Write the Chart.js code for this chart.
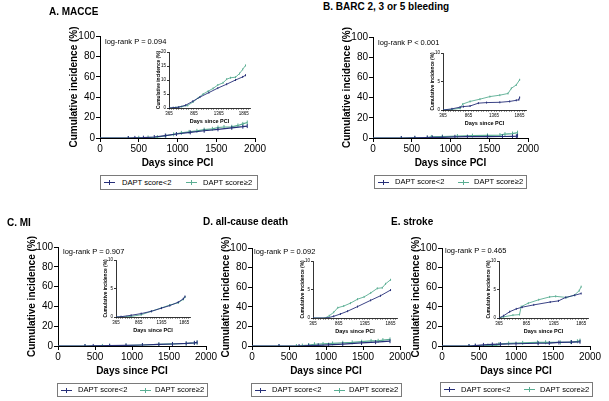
<!DOCTYPE html>
<html>
<head>
<meta charset="utf-8">
<script src="https://cdn.jsdelivr.net/npm/chart.js@4.4.1/dist/chart.umd.min.js"></script>
<style>
  body { margin: 0; width: 609px; height: 401px; background: #fff; position: relative; overflow: hidden;
         font-family: "Liberation Sans", Arial, sans-serif; color: #000; }
  .ttl { position: absolute; font-size: 10px; line-height: 12px; font-weight: bold; white-space: nowrap; }
  .lr { position: absolute; font-size: 7.5px; line-height: 9px; white-space: nowrap; }
  .leg { position: absolute; border: 1px solid #7a7a7a; box-sizing: border-box; font-size: 7.6px; }
  .leg span { position: absolute; top: 50%; transform: translateY(-50%); white-space: nowrap; line-height: 10px; }
  .leg .sym { width: 11px; height: 1px; transform: none; }
  .leg .sym::after { content: ''; position: absolute; left: 5px; top: -2px; width: 1px; height: 5px; background: inherit; }
  canvas { position: absolute; }
</style>
</head>
<body>
<script>
const FONT = '"Liberation Sans", Arial, sans-serif';
const DARK = '#262f78';
const GREEN = '#5aae93';

// tick labels
const mainXTicks = [0, 500, 1000, 1500, 2000];
const mainYTicks = [0, 20, 40, 60, 80, 100];
const insetXLabels = [365, 865, 1365, 1865];
const seriesNames = ['DAPT score<2', 'DAPT score\u22652'];

// A. MACCE
const aLowDays  = [0, 365, 450, 560, 700, 843, 986, 1165, 1344, 1522, 1700, 1843, 1900];
const aLowVals  = [0, 0, 0.1, 0.3, 1.0, 2.4, 3.9, 5.5, 7.1, 8.5, 10.0, 11.1, 11.7];
const aHighDays = [0, 365, 500, 620, 740, 850, 950, 1050, 1150, 1250, 1344, 1450, 1522, 1600, 1700, 1780, 1843, 1900];
const aHighVals = [0, 0, 0.2, 0.5, 0.9, 2.2, 3.6, 5.0, 6.0, 7.0, 8.2, 9.0, 10.3, 10.8, 11.0, 12.3, 13.8, 15.2];

// B. BARC 2, 3 or 5 bleeding
const bLowDays  = [0, 365, 540, 700, 766, 895, 1057, 1218, 1477, 1670, 1800, 1850, 1865];
const bLowVals  = [0, 0, 0.2, 0.5, 0.6, 0.7, 1.2, 1.3, 1.35, 1.5, 1.7, 1.8, 2.2];
const bHighDays = [0, 365, 540, 701, 753, 895, 1089, 1283, 1477, 1638, 1703, 1800, 1865];
const bHighVals = [0, 0, 0.1, 0.3, 1.05, 1.5, 1.9, 2.35, 2.6, 2.9, 3.8, 4.4, 5.3];

// C. MI
const cLowDays  = [0, 365, 476, 698, 919, 1141, 1363, 1547, 1732, 1843, 1880];
const cLowVals  = [0, 0, 0.05, 0.3, 0.6, 1.0, 1.55, 2.0, 2.6, 3.2, 3.6];
const cHighDays = [0, 365, 600, 698, 919, 1141, 1363, 1547, 1732, 1843, 1880];
const cHighVals = [0, 0, 0.05, 0.1, 0.4, 1.0, 1.6, 2.1, 2.5, 3.1, 3.5];

// D. all-cause death
const dLowDays  = [0, 365, 636, 766, 895, 1035, 1226, 1480, 1670, 1865];
const dLowVals  = [0, 0, 0, 0.3, 0.7, 1.2, 2.0, 3.1, 3.9, 4.9];
const dHighDays = [0, 365, 600, 680, 766, 844, 960, 1089, 1226, 1354, 1482, 1609, 1705, 1769, 1865];
const dHighVals = [0, 0, 0, 0.4, 1.0, 1.8, 2.1, 2.6, 3.3, 3.7, 4.4, 5.2, 5.3, 6.0, 6.7];

// E. stroke
const eLowDays  = [0, 365, 450, 560, 680, 790, 1000, 1300, 1450, 1580, 1750, 1865];
const eLowVals  = [0, 0, 0.4, 1.1, 1.6, 1.9, 2.3, 2.8, 3.0, 3.6, 4.0, 4.3];
const eHighDays = [0, 365, 450, 620, 740, 770, 900, 1090, 1290, 1400, 1600, 1740, 1830, 1865];
const eHighVals = [0, 0, 0.2, 0.5, 0.6, 2.0, 2.6, 3.2, 3.7, 3.8, 3.6, 4.0, 4.8, 5.5];

const panels = [
  { title: 'A. MACCE', p: 'log-rank P = 0.094', low: [aLowDays, aLowVals], high: [aHighDays, aHighVals],
    tx: 49, ty: 12, px: 105, py: 41,
    main: { L: 100, R: 255, T: 36, B: 138 }, inset: { L: 169, R: 250, T: 52, B: 108, ymax: 20 },
    leg: { x: 100, y: 175, w: 158, h: 15 } },
  { title: 'B. BARC 2, 3 or 5 bleeding', p: 'log-rank P < 0.001', low: [bLowDays, bLowVals], high: [bHighDays, bHighVals],
    tx: 323, ty: 7, px: 378, py: 42,
    main: { L: 373, R: 528, T: 37, B: 138 }, inset: { L: 443, R: 526, T: 53, B: 110, ymax: 10 },
    leg: { x: 374, y: 175, w: 153, h: 14 } },
  { title: 'C. MI', p: 'log-rank P = 0.907', low: [cLowDays, cLowVals], high: [cHighDays, cHighVals],
    tx: 7, ty: 223, px: 63, py: 251,
    main: { L: 58, R: 206, T: 247, B: 346 }, inset: { L: 116, R: 190, T: 260, B: 317, ymax: 10 },
    leg: { x: 57, y: 383, w: 151, h: 14 } },
  { title: 'D. all-cause death', p: 'log-rank P = 0.092', low: [dLowDays, dLowVals], high: [dHighDays, dHighVals],
    tx: 203, ty: 222, px: 254, py: 251,
    main: { L: 252, R: 400, T: 248, B: 346 }, inset: { L: 313, R: 397, T: 261, B: 318, ymax: 10 },
    leg: { x: 251, y: 383, w: 151, h: 14 } },
  { title: 'E. stroke', p: 'log-rank P = 0.465', low: [eLowDays, eLowVals], high: [eHighDays, eHighVals],
    tx: 391, ty: 222, px: 445, py: 250,
    main: { L: 442, R: 590, T: 248, B: 346 }, inset: { L: 499, R: 588, T: 261, B: 318, ymax: 10 },
    leg: { x: 440, y: 382, w: 153, h: 15 } }
];

Chart.defaults.font.family = FONT;
Chart.defaults.color = '#000';

function pts(arr) { return arr[0].map((d, i) => ({ x: d, y: arr[1][i] })); }

function makeCanvas(left, top, w, h) {
  const c = document.createElement('canvas');
  c.width = w; c.height = h;
  c.style.left = left + 'px'; c.style.top = top + 'px';
  c.style.width = w + 'px'; c.style.height = h + 'px';
  document.body.appendChild(c);
  return c;
}

function ds(data, color, r, bw) {
  return {
    data, borderColor: color, backgroundColor: color, borderWidth: bw,
    pointStyle: 'line', pointRotation: 90, pointBorderColor: color, pointBorderWidth: 1,
    pointRadius: c => (c.raw && c.raw.x < 365 ? 0 : r),
    tension: 0, fill: false
  };
}

function mainChart(pn) {
  const pos = pn.main;
  const yW = 32, xH = 31, padT = 22, padR = 14;
  const left = pos.L - yW, top = pos.T - padT;
  const c = makeCanvas(left, top, pos.R + padR - left, pos.B + xH - top);
  new Chart(c, {
    type: 'line',
    data: { datasets: [ds(pts(pn.low), DARK, 2, 1.2), ds(pts(pn.high), GREEN, 2, 1.2)] },
    options: {
      responsive: false, animation: false,
      layout: { padding: { top: padT, right: padR, left: 0, bottom: 0 } },
      plugins: { legend: { display: false }, tooltip: { enabled: false } },
      scales: {
        x: {
          type: 'linear', min: 0, max: 2000,
          afterBuildTicks: s => { s.ticks = mainXTicks.map(v => ({ value: v })); },
          afterFit: s => { s.height = xH; },
          ticks: { font: { size: 10 }, color: '#000', padding: 1, maxRotation: 0, autoSkip: false,
                   callback: v => String(v) },
          grid: { drawOnChartArea: false, color: '#000', tickLength: 4 },
          border: { color: '#000', width: 1 },
          title: { display: true, text: 'Days since PCI', font: { size: 10, weight: 'bold' }, color: '#000', padding: 0 }
        },
        y: {
          min: 0, max: 100,
          afterBuildTicks: s => { s.ticks = mainYTicks.map(v => ({ value: v })); },
          afterFit: s => { s.width = yW; },
          ticks: { font: { size: 10 }, color: '#000', padding: 1, autoSkip: false, callback: v => String(v) },
          grid: { drawOnChartArea: false, color: '#000', tickLength: 4 },
          border: { color: '#000', width: 1 },
          title: { display: true, text: 'Cumulative incidence (%)', font: { size: 10, weight: 'bold' }, color: '#000', padding: 0 }
        }
      }
    }
  });
}

function insetChart(pn) {
  const pos = pn.inset;
  const yW = 13, xH = 17, padT = 6, padR = 6;
  const xMax = 1990;
  const left = pos.L - yW, top = pos.T - padT;
  const c = makeCanvas(left, top, pos.R + padR - left, pos.B + xH - top);
  const minor = [];
  for (let v = 365; v <= xMax; v += 50) minor.push(v);
  const yTicks = [];
  for (let v = 0; v <= pos.ymax; v += 5) yTicks.push(v);
  new Chart(c, {
    type: 'line',
    data: { datasets: [ds(pts(pn.low), DARK, 1, 0.9), ds(pts(pn.high), GREEN, 1, 0.9)] },
    options: {
      responsive: false, animation: false,
      layout: { padding: { top: padT, right: padR, left: 0, bottom: 0 } },
      plugins: { legend: { display: false }, tooltip: { enabled: false } },
      scales: {
        x: {
          type: 'linear', min: 365, max: xMax,
          afterBuildTicks: s => { s.ticks = minor.map(v => ({ value: v })); },
          afterFit: s => { s.height = xH; },
          ticks: { font: { size: 4.5 }, color: '#000', padding: 2, maxRotation: 0, autoSkip: false,
                   callback: v => (insetXLabels.includes(v) ? String(v) : '') },
          grid: { drawOnChartArea: false, color: '#000', tickLength: 1.5, lineWidth: 0.8 },
          border: { color: '#000', width: 0.8 },
          title: { display: true, text: 'Days since PCI', font: { size: 5.5, weight: 'bold' }, color: '#000', padding: 0 }
        },
        y: {
          min: 0, max: pos.ymax,
          afterBuildTicks: s => { s.ticks = yTicks.map(v => ({ value: v })); },
          afterFit: s => { s.width = yW; },
          ticks: { font: { size: 4.5 }, color: '#000', padding: 1, autoSkip: false, callback: v => String(v) },
          grid: { drawOnChartArea: false, color: '#000', tickLength: 2, lineWidth: 0.8 },
          border: { color: '#000', width: 0.8 },
          title: { display: true, text: 'Cumulative incidence (%)', font: { size: 4.8, weight: 'bold' }, color: '#000', padding: 0 }
        }
      }
    }
  });
}

function addDiv(cls, text, x, y, lh) {
  const d = document.createElement('div');
  d.className = cls;
  d.textContent = text;
  d.style.left = x + 'px';
  d.style.top = (y - lh / 2) + 'px';
  document.body.appendChild(d);
}

function addLegend(l) {
  const d = document.createElement('div');
  d.className = 'leg';
  d.style.cssText = `left:${l.x}px;top:${l.y}px;width:${l.w}px;height:${l.h}px`;
  const parts = [
    ['sym', '', 0.02, DARK], ['', seriesNames[0], 0.13, null],
    ['sym', '', 0.54, GREEN], ['', seriesNames[1], 0.645, null]
  ];
  parts.forEach(([cls, txt, f, col]) => {
    const s = document.createElement('span');
    if (cls) s.className = cls;
    s.textContent = txt;
    s.style.left = Math.round(f * l.w) + 'px';
    if (col) { s.style.background = col; s.style.top = Math.round(l.h / 2 - 1.5) + 'px'; }
    d.appendChild(s);
  });
  document.body.appendChild(d);
}

panels.forEach(pn => {
  mainChart(pn);
  insetChart(pn);
  addDiv('ttl', pn.title, pn.tx, pn.ty, 12);
  addDiv('lr', pn.p, pn.px, pn.py, 9);
  addLegend(pn.leg);
});
</script>
</body>
</html>
